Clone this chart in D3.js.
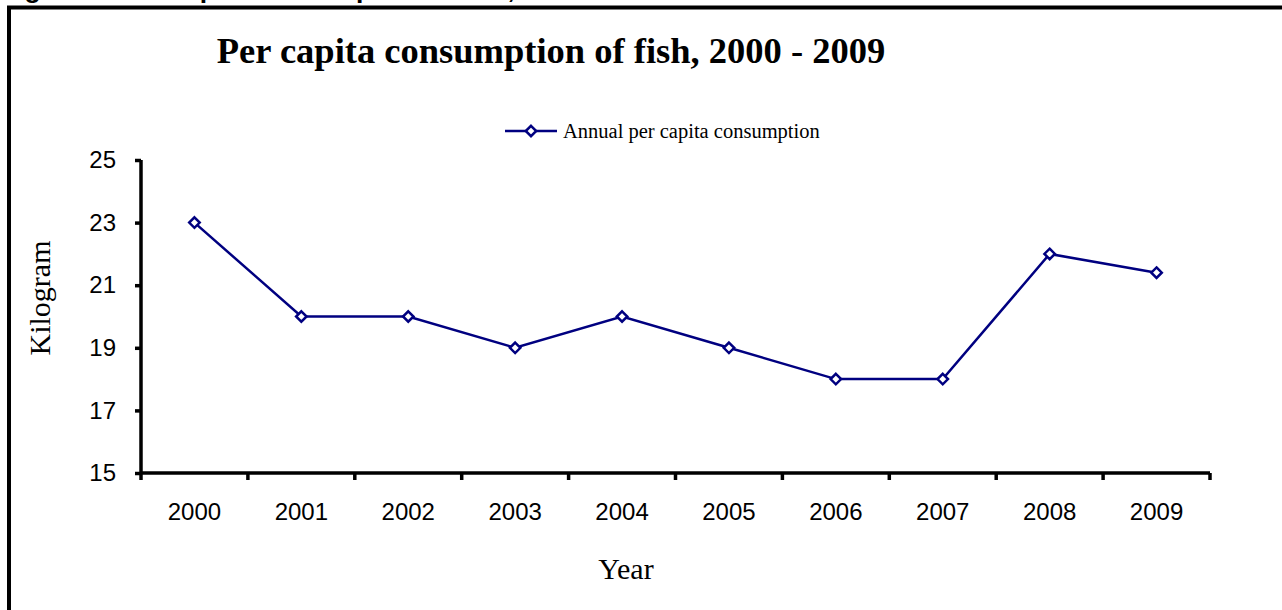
<!DOCTYPE html>
<html>
<head>
<meta charset="utf-8">
<script src="https://cdn.jsdelivr.net/npm/d3@7"></script>
<style>
  html, body { margin: 0; padding: 0; background: #fff; }
  svg { display: block; }
</style>
</head>
<body>
<svg id="chart" width="1282" height="610"></svg>
<script>
// Annual per capita fish consumption (kg)
const years = ["2000", "2001", "2002", "2003", "2004", "2005", "2006", "2007", "2008", "2009"];
const consumption = [23, 20, 20, 19, 20, 19, 18, 18, 22, 21.4];
const yTicks = [15, 17, 19, 21, 23, 25];
const seriesName = "Annual per capita consumption";
const chartTitle = "Per capita consumption of fish, 2000 - 2009";
const captionText = "Figure 5: Per capita consumption of fish, 2000 - 2009";

const navy = "#000080";
const sans = "Liberation Sans, Arial, sans-serif";
const serif = "Liberation Serif, Times New Roman, serif";
const svg = d3.select("#chart");

// Caption above the framed chart (runs off the top of the page)
svg.append("text")
  .attr("x", 1).attr("y", -2)
  .attr("font-family", sans)
  .attr("font-weight", "bold")
  .attr("font-size", 26.5)
  .text(captionText);

// Outer frame
svg.append("rect")
  .attr("x", 9).attr("y", 7.5)
  .attr("width", 1300).attr("height", 640)
  .attr("fill", "#fff")
  .attr("stroke", "#000")
  .attr("stroke-width", 4);

const plot = { left: 141, right: 1210, top: 160, bottom: 473 };

const x = d3.scaleBand().domain(years).range([plot.left, plot.right]).padding(0);
const y = d3.scaleLinear().domain([15, 25]).range([plot.bottom, plot.top]);

// Title
svg.append("text")
  .attr("x", 551).attr("y", 63)
  .attr("text-anchor", "middle")
  .attr("font-family", serif)
  .attr("font-weight", "bold")
  .attr("font-size", 36.5)
  .text(chartTitle);

// Y axis
const yAxis = svg.append("g")
  .attr("transform", `translate(${plot.left},0)`)
  .call(d3.axisLeft(y).tickValues(yTicks).tickSize(6).tickPadding(19).tickFormat(d3.format("d")));
yAxis.select(".domain").attr("stroke", "#000").attr("stroke-width", 3.5)
  .attr("d", `M0,${plot.top}V${plot.bottom}`);
yAxis.selectAll(".tick line").attr("stroke", "#000").attr("stroke-width", 3.5);
yAxis.selectAll(".tick text")
  .attr("font-family", sans)
  .attr("font-size", 24)
  .attr("fill", "#000");

// X axis with ticks at category boundaries
const xAxisG = svg.append("g").attr("transform", `translate(0,${plot.bottom})`);
xAxisG.append("line")
  .attr("x1", plot.left).attr("x2", plot.right)
  .attr("y1", 0).attr("y2", 0)
  .attr("stroke", "#000").attr("stroke-width", 3.5);
const boundaries = years.map(d => x(d)).concat([x(years[years.length - 1]) + x.bandwidth()]);
xAxisG.selectAll(".xtick").data(boundaries).join("line")
  .attr("class", "xtick")
  .attr("x1", d => d).attr("x2", d => d)
  .attr("y1", 0).attr("y2", 7)
  .attr("stroke", "#000").attr("stroke-width", 3.5);
xAxisG.selectAll(".xlabel").data(years).join("text")
  .attr("class", "xlabel")
  .attr("x", d => x(d) + x.bandwidth() / 2)
  .attr("y", 47)
  .attr("text-anchor", "middle")
  .attr("font-family", sans)
  .attr("font-size", 24)
  .text(d => d);

// Axis titles
svg.append("text")
  .attr("transform", "translate(50,298) rotate(-90)")
  .attr("text-anchor", "middle")
  .attr("font-family", serif)
  .attr("font-size", 30)
  .text("Kilogram");

svg.append("text")
  .attr("x", 626).attr("y", 579)
  .attr("text-anchor", "middle")
  .attr("font-family", serif)
  .attr("font-size", 30)
  .text("Year");

// Series line
const cx = i => x(years[i]) + x.bandwidth() / 2;
const line = d3.line().x((d, i) => cx(i)).y(d => y(d));
svg.append("path")
  .datum(consumption)
  .attr("d", line)
  .attr("fill", "none")
  .attr("stroke", navy)
  .attr("stroke-width", 2.5);

// Diamond markers
const diamond = d3.symbol().type(d3.symbolDiamond2).size(70);
svg.selectAll(".marker").data(consumption).join("path")
  .attr("class", "marker")
  .attr("transform", (d, i) => `translate(${cx(i)},${y(d)})`)
  .attr("d", diamond)
  .attr("fill", "#fff")
  .attr("stroke", navy)
  .attr("stroke-width", 2.5);

// Legend
const legend = svg.append("g").attr("transform", "translate(505,131)");
legend.append("line")
  .attr("x1", 0).attr("x2", 52).attr("y1", 0).attr("y2", 0)
  .attr("stroke", navy).attr("stroke-width", 2.5);
legend.append("path")
  .attr("transform", "translate(26,0)")
  .attr("d", diamond)
  .attr("fill", "#fff")
  .attr("stroke", navy)
  .attr("stroke-width", 2.5);
legend.append("text")
  .attr("x", 58).attr("y", 7)
  .attr("font-family", serif)
  .attr("font-size", 20.5)
  .text(seriesName);
</script>
</body>
</html>
